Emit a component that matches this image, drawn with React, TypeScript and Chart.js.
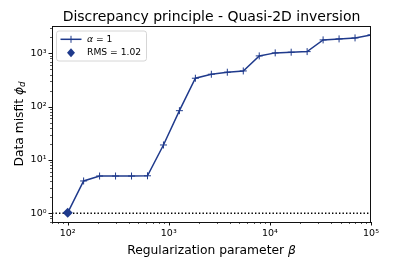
import React, { useEffect, useRef } from "react";
import { Chart, registerables } from "chart.js";

Chart.register(...registerables);

// ---- data ----
const betaValues = [
  100, 143.8, 206.9, 297.6, 428.1, 615.8, 885.9, 1274.3, 1833.0, 2636.7,
  3792.7, 5455.6, 7847.6, 11288.4, 16237.8, 23357.2, 33598.2, 48329.3, 69519.3, 100000,
];
const phiValues = [
  1.02, 4.04, 5.0, 5.0, 5.0, 5.05, 19.1, 84, 341, 405,
  442, 467, 894, 1018, 1048, 1076, 1783, 1862, 1945, 2213,
];
const rmsBeta = [100];
const rmsPhi = [1.02];
const targetPhi = 1;

const X_MIN = 70;
const X_MAX = 100000;
const Y_MIN = 0.687;
const Y_MAX = 3250;

const xMajorTicks = [100, 1000, 10000, 100000];
const yMajorTicks = [1, 10, 100, 1000];

const seriesLabel = "α = 1";
const rmsLabel = "RMS = 1.02";
const titleText = "Discrepancy principle - Quasi-2D inversion";

const BLUE = "#1f3a8c";
const FONT = '"DejaVu Sans", sans-serif';

function minorTicks(min: number, max: number) {
  const out: number[] = [];
  for (let e = Math.floor(Math.log10(min)); e <= Math.ceil(Math.log10(max)); e++) {
    for (let m = 2; m <= 9; m++) {
      const v = m * Math.pow(10, e);
      if (v >= min * 0.9999 && v <= max * 1.0001) out.push(v);
    }
  }
  return out;
}

const SUP: Record<string, string> = { "0": "⁰", "1": "¹", "2": "²", "3": "³", "4": "⁴", "5": "⁵", "-": "⁻" };
function isPow10(v: number) {
  const l = Math.log10(v);
  return Math.abs(l - Math.round(l)) < 1e-6;
}
function powLabel(v: number) {
  if (!isPow10(v)) return "";
  const e = String(Math.round(Math.log10(v)));
  return "10" + e.split("").map((c) => SUP[c] || c).join("");
}

type Run = { text: string; font: string; dy?: number };
function drawRuns(ctx: CanvasRenderingContext2D, runs: Run[], x: number, y: number) {
  let total = 0;
  const widths = runs.map((r) => {
    ctx.font = r.font;
    const w = ctx.measureText(r.text).width;
    total += w;
    return w;
  });
  let cx = x - total / 2;
  runs.forEach((r, i) => {
    ctx.font = r.font;
    ctx.fillText(r.text, cx, y + (r.dy || 0));
    cx += widths[i];
  });
}

const decorPlugin = {
  id: "decor",
  afterDraw(chart: any) {
    const ctx: CanvasRenderingContext2D = chart.ctx;
    const { left, right, top, bottom } = chart.chartArea;
    const xs = chart.scales.x;
    const ys = chart.scales.y;
    ctx.save();
    // ticks
    ctx.strokeStyle = "#111";
    xs.ticks.forEach((t: any) => {
      const major = isPow10(t.value);
      const px = Math.round(xs.getPixelForValue(t.value)) + 0.5;
      ctx.lineWidth = major ? 1 : 0.7;
      ctx.beginPath();
      ctx.moveTo(px, bottom);
      ctx.lineTo(px, bottom + (major ? 3.5 : 2));
      ctx.stroke();
    });
    ys.ticks.forEach((t: any) => {
      const major = isPow10(t.value);
      const py = Math.round(ys.getPixelForValue(t.value)) + 0.5;
      ctx.lineWidth = major ? 1 : 0.7;
      ctx.beginPath();
      ctx.moveTo(left, py);
      ctx.lineTo(left - (major ? 3.5 : 2), py);
      ctx.stroke();
    });
    // frame
    ctx.lineWidth = 1;
    ctx.strokeStyle = "#111";
    ctx.strokeRect(Math.round(left) + 0.5, Math.round(top) + 0.5, Math.round(right - left) - 1, Math.round(bottom - top));

    // title
    ctx.fillStyle = "#000";
    ctx.textBaseline = "alphabetic";
    ctx.textAlign = "left";
    const cx = (left + right) / 2;
    drawRuns(ctx, [{ text: titleText, font: `14px ${FONT}` }], cx, 21);
    // x label
    drawRuns(
      ctx,
      [
        { text: "Regularization parameter ", font: `12.3px ${FONT}` },
        { text: "β", font: `italic 12.3px ${FONT}` },
      ],
      cx,
      253.5
    );
    // y label
    ctx.save();
    ctx.translate(22.7, (top + bottom) / 2);
    ctx.rotate(-Math.PI / 2);
    drawRuns(
      ctx,
      [
        { text: "Data misfit ", font: `12.3px ${FONT}` },
        { text: "ϕ", font: `italic 12.3px ${FONT}` },
        { text: "d", font: `italic 8.6px ${FONT}`, dy: 2.5 },
      ],
      0,
      0
    );
    ctx.restore();

    // legend
    const bx = 56.5, by = 31, bw = 90, bh = 30;
    ctx.beginPath();
    (ctx as any).roundRect(bx, by, bw, bh, 2.5);
    ctx.fillStyle = "rgba(255,255,255,0.8)";
    ctx.fill();
    ctx.strokeStyle = "#cccccc";
    ctx.lineWidth = 0.8;
    ctx.stroke();
    const r1 = 39.3, r2 = 52.7, mx = 71;
    ctx.strokeStyle = BLUE;
    ctx.lineWidth = 1.5;
    ctx.beginPath();
    ctx.moveTo(60.5, r1);
    ctx.lineTo(81.5, r1);
    ctx.stroke();
    ctx.lineWidth = 1;
    ctx.beginPath();
    ctx.moveTo(mx, r1 - 3.5);
    ctx.lineTo(mx, r1 + 3.5);
    ctx.stroke();
    ctx.fillStyle = BLUE;
    ctx.beginPath();
    ctx.moveTo(mx, r2 - 4.5);
    ctx.lineTo(mx + 4, r2);
    ctx.lineTo(mx, r2 + 4.5);
    ctx.lineTo(mx - 4, r2);
    ctx.closePath();
    ctx.fill();
    ctx.fillStyle = "#000";
    ctx.textBaseline = "middle";
    ctx.textAlign = "left";
    const tx = 87;
    const a = seriesLabel.slice(0, 1);
    const rest = seriesLabel.slice(1);
    ctx.font = `italic 9.2px ${FONT}`;
    ctx.fillText(a, tx, r1);
    const aw = ctx.measureText(a).width;
    ctx.font = `9.2px ${FONT}`;
    ctx.fillText(rest, tx + aw, r1);
    ctx.fillText(rmsLabel, tx, r2);
    ctx.restore();
  },
};

export default function App() {
  const ref = useRef<HTMLCanvasElement>(null);
  useEffect(() => {
    const canvas = ref.current!;
    const xTickValues = [...xMajorTicks, ...minorTicks(X_MIN, X_MAX)].sort((p, q) => p - q);
    const yTickValues = [...yMajorTicks, ...minorTicks(Y_MIN, Y_MAX)].sort((p, q) => p - q);
    const tickFont = { family: FONT, size: 9.5 };
    const chart = new Chart(canvas, {
      type: "line",
      data: {
        datasets: [
          {
            label: seriesLabel,
            data: betaValues.map((x, i) => ({ x, y: phiValues[i] })),
            borderColor: BLUE,
            backgroundColor: BLUE,
            borderWidth: 1.5,
            pointStyle: "cross",
            pointRadius: 3.5,
            pointBorderWidth: 1,
            pointBorderColor: BLUE,
            tension: 0,
            order: 2,
          },
          {
            label: rmsLabel,
            data: rmsBeta.map((x, i) => ({ x, y: rmsPhi[i] })),
            showLine: false,
            pointStyle: "rectRot",
            pointRadius: 5,
            pointBackgroundColor: BLUE,
            pointBorderColor: BLUE,
            pointBorderWidth: 0,
            order: 1,
          },
          {
            label: "target",
            data: [
              { x: X_MIN, y: targetPhi },
              { x: X_MAX, y: targetPhi },
            ],
            borderColor: "#000",
            borderDash: [1.4, 2.1],
            borderWidth: 1.4,
            pointRadius: 0,
            order: 3,
          },
        ],
      } as any,
      options: {
        animation: false,
        responsive: false,
        devicePixelRatio: 1,
        layout: { padding: { left: 0, right: 36, top: 26, bottom: 0 } },
        plugins: { legend: { display: false }, tooltip: { enabled: false }, title: { display: false } },
        scales: {
          x: {
            type: "logarithmic",
            min: X_MIN,
            max: X_MAX,
            bounds: "data",
            grid: { display: false, drawTicks: false },
            border: { display: false },
            ticks: {
              autoSkip: false,
              maxRotation: 0,
              padding: 5.5,
              color: "#000",
              font: tickFont,
              callback: (v: any) => powLabel(Number(v)),
            },
            afterBuildTicks: (s: any) => {
              s.ticks = xTickValues.map((value) => ({ value, major: isPow10(value) }));
            },
            afterFit: (s: any) => {
              s.height = 49;
              s.paddingLeft = 0;
              s.paddingRight = 0;
            },
          },
          y: {
            type: "logarithmic",
            min: Y_MIN,
            max: Y_MAX,
            bounds: "data",
            grid: { display: false, drawTicks: false },
            border: { display: false },
            ticks: {
              autoSkip: false,
              padding: 5.5,
              color: "#000",
              font: tickFont,
              callback: (v: any) => powLabel(Number(v)),
            },
            afterBuildTicks: (s: any) => {
              s.ticks = yTickValues.map((value) => ({ value, major: isPow10(value) }));
            },
            afterFit: (s: any) => {
              s.width = 52;
              s.paddingTop = 0;
              s.paddingBottom = 0;
            },
          },
        },
      } as any,
      plugins: [decorPlugin],
    });
    return () => chart.destroy();
  }, []);
  return (
    <div style={{ position: "fixed", left: 0, top: 0, width: 407, height: 271, background: "#fff" }}>
      <canvas ref={ref} width={407} height={271} style={{ display: "block" }} />
    </div>
  );
}
